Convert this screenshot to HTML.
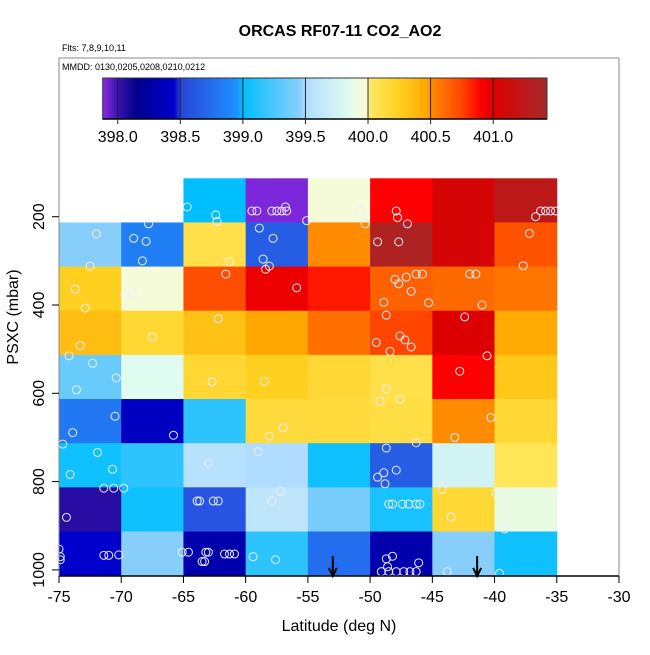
<!DOCTYPE html>
<html><head><meta charset="utf-8"><style>
body{margin:0;background:#fff}
svg text{font-family:"Liberation Sans",sans-serif}
</style></head><body>
<svg id="c" width="650" height="650" xmlns="http://www.w3.org/2000/svg">
<text x="340" y="36" font-size="16" font-weight="bold" text-anchor="middle">ORCAS RF07-11 CO2_AO2</text>
<text x="62" y="51" font-size="9">Flts: 7,8,9,10,11</text>
<rect x="59" y="58" width="560" height="518" fill="none" stroke="#888" stroke-width="1"/>
<text x="62" y="70" font-size="9">MMDD: 0130,0205,0208,0210,0212</text>
<defs><linearGradient id="cg" x1="0" x2="1" y1="0" y2="0"></linearGradient></defs>
<g id="cells"></g>
<g id="pts"></g>
<g id="axes"></g>
<g id="cbar"></g>
<text x="339" y="631" font-size="16" text-anchor="middle">Latitude (deg N)</text>
<text transform="translate(18,317) rotate(-90)" font-size="16" text-anchor="middle">PSXC (mbar)</text>
</svg>
<script>
const latEdges=[-75,-70,-65,-60,-55,-50,-45,-40,-35];
const presEdges=[113,213,313,413,513,613,713,813,913,1013];
const cellValues=[
[null,null,399.0,397.9,399.95,400.9,401.05,401.25],
[399.45,398.85,400.1,398.65,400.5,401.35,401.05,400.7],
[400.25,399.95,400.72,400.95,400.85,400.65,400.62,400.58],
[400.35,400.18,400.33,400.47,400.6,400.75,401.0,400.45],
[399.35,399.85,400.18,400.25,400.17,400.1,400.9,400.3],
[398.8,398.4,399.15,400.15,400.15,400.12,400.5,400.17],
[399.05,399.15,399.55,399.5,399.05,398.65,399.75,400.05],
[398.05,399.05,398.6,399.6,399.4,399.08,400.17,399.9],
[398.45,399.45,398.3,399.15,398.75,398.3,399.45,399.05]];
const ptLat=[-72.0,-69.0,-68.0,-67.8,-68.3,-72.5,-73.7,-72.9,-69.7,-69.1,-73.3,-67.5,-74.2,-72.3,-70.4,-73.6,-70.5,-73.9,-74.7,-71.9,-74.1,-70.7,-71.4,-70.6,-69.8,-74.4,-75,-74.9,-74.9,-71.4,-71.0,-70.2,-65.1,-64.6,-63.5,-63.3,-63.2,-63.0,-61.7,-61.3,-60.9,-59.4,-57.6,-63.9,-63.7,-62.6,-62.2,-57.9,-57.2,-59.0,-63.0,-58.1,-57.0,-65.8,-62.7,-58.5,-62.2,-61.6,-61.3,-58.4,-58.1,-55.9,-58.9,-57.8,-58.6,-64.7,-62.4,-62.3,-59.5,-59.1,-57.9,-57.5,-57.1,-56.7,-56.8,-55.1,-50.8,-50.4,-47.9,-47.8,-47.0,-49.4,-47.7,-48.0,-47.7,-47.1,-46.3,-45.8,-46.7,-48.9,-45.3,-42.0,-41.5,-41.0,-37.7,-37.2,-36.7,-36.3,-35.9,-35.5,-35.1,-48.7,-42.4,-49.5,-47.6,-47.2,-46.7,-48.4,-40.6,-42.8,-48.7,-49.2,-47.6,-40.3,-43.2,-46.3,-48.7,-47.9,-48.9,-49.4,-48.8,-44.2,-39.9,-43.5,-39.2,-48.5,-48.2,-47.4,-46.9,-46.3,-46.0,-48.2,-48.7,-46.1,-49.1,-48.5,-47.9,-47.3,-46.8,-46.3,-48.6,-43.8,-39.6];
const ptPres=[239,249,256,216,300,312,364,407,376,376,492,472,515,532,565,592,652,689,715,734,784,772,815,815,815,881,953,970,977,967,967,966,960,960,981,981,960,960,964,964,964,970,977,844,844,844,844,844,822,732,759,697,678,695,574,573,431,330,302,319,312,361,226,249,296,178,196,211,187,187,187,187,187,187,178,209,187,216,187,202,216,257,257,342,352,337,330,330,369,394,395,330,330,400,311,238,200,187,187,187,187,427+0*0,427,485,470,479,495,505,515,550,590,618,613,655,700,712,724,774,780,790,805,817,826,880,907,851,851,851,851,851,851,969,975,984,1004,1004,1004,1004,1004,1004,993,1004,1008];
ptPres[101]=423;
const arrowLat=[-53.0,-41.4];
const xTicks=[-75,-70,-65,-60,-55,-50,-45,-40,-35,-30];
const yTicks=[200,400,600,800,1000];
const cbTicks=["398.0","398.5","399.0","399.5","400.0","400.5","401.0"];
const cbStops=[[397.88,"#8a2be2"],[398.0,"#3a14b0"],[398.15,"#00008b"],[398.45,"#0000cd"],[398.5,"#2a44d8"],[398.95,"#1e90ff"],[399.0,"#00bfff"],[399.45,"#87cefa"],[399.5,"#b0dcff"],[399.85,"#e0fcf0"],[400.0,"#fffacd"],[400.02,"#ffe860"],[400.25,"#ffd020"],[400.48,"#ffa500"],[400.5,"#ff8c00"],[400.75,"#ff4500"],[400.9,"#ff0000"],[401.0,"#dd0000"],[401.43,"#a52a2a"]];
const NS="http://www.w3.org/2000/svg";
const X=l=>59+(l+75)*(560/45);
const Y=p=>216.7+(p-200)*0.4415;
const CB=v=>102.7+(v-397.88)*(444.3/3.55);
function hex(h){return [1,3,5].map(i=>parseInt(h.substr(i,2),16));}
function col(v){
 if(v<=cbStops[0][0])return cbStops[0][1];
 for(let i=1;i<cbStops.length;i++){if(v<=cbStops[i][0]){const a=cbStops[i-1],b=cbStops[i];const t=(v-a[0])/(b[0]-a[0]);const ca=hex(a[1]),cb=hex(b[1]);return "rgb("+ca.map((c,k)=>Math.round(c+(cb[k]-c)*t)).join(",")+")";}}
 return cbStops[cbStops.length-1][1];
}
function mk(t,a,parent){const e=document.createElementNS(NS,t);for(const k in a)e.setAttribute(k,a[k]);parent.appendChild(e);return e;}
const cells=document.getElementById('cells');
cellValues.forEach((row,r)=>row.forEach((v,c)=>{if(v===null)return;
 const e=mk('rect',{x:X(latEdges[c]),y:Y(presEdges[r]),width:X(latEdges[c+1])-X(latEdges[c])+0.5,height:Y(presEdges[r+1])-Y(presEdges[r])+0.5,fill:col(v)},cells);
 
 
}));
const pts=document.getElementById('pts');
ptLat.forEach((l,i)=>{const e=mk('circle',{cx:X(l),cy:Y(ptPres[i]),r:4,fill:'none',stroke:'#eef','stroke-width':1},pts);
 
 
});
arrowLat.forEach(l=>{const g=mk('g',{},pts);
 
 
 const x=X(l);mk('line',{x1:x,y1:556,x2:x,y2:575,stroke:'#000','stroke-width':2},g);
 mk('path',{d:`M${x-4},${568} L${x},${576} L${x+4},${568}`,fill:'none',stroke:'#000','stroke-width':2},g);
});
const ax=document.getElementById('axes');
mk('line',{x1:59,y1:576,x2:619,y2:576,stroke:'#000','stroke-width':1.5},ax);
mk('line',{x1:59,y1:58,x2:59,y2:576,stroke:'#888','stroke-width':1},ax);
xTicks.forEach(t=>{const x=X(t);mk('line',{x1:x,y1:576,x2:x,y2:583,stroke:'#000'},ax);
 const e=mk('text',{x:x,y:602,'font-size':16,'text-anchor':'middle'},ax);e.textContent=t;
 
 
});
yTicks.forEach(t=>{const y=Y(t);mk('line',{x1:52,y1:y,x2:59,y2:y,stroke:'#000'},ax);
 const e=mk('text',{x:0,y:0,'font-size':16,'text-anchor':'middle',transform:`translate(44,${y}) rotate(-90)`},ax);e.textContent=t;
 
 
});
const g=document.getElementById('cg');
cbStops.forEach(s=>mk('stop',{offset:((s[0]-397.88)/3.55*100).toFixed(2)+'%','stop-color':s[1]},g));
const cb=document.getElementById('cbar');
mk('rect',{x:102.7,y:78,width:444.3,height:41,fill:'url(#cg)',stroke:'#333','stroke-width':1},cb);
mk('line',{x1:102.7,y1:119,x2:547,y2:119,stroke:'#000','stroke-width':1.5},cb);
cbTicks.forEach(t=>{const x=CB(parseFloat(t));mk('line',{x1:x,y1:78,x2:x,y2:124,stroke:'#222','stroke-width':1},cb);
 const e=mk('text',{x:x,y:142,'font-size':16,'text-anchor':'middle'},cb);e.textContent=t;
 
 
});
</script>
</body></html>
